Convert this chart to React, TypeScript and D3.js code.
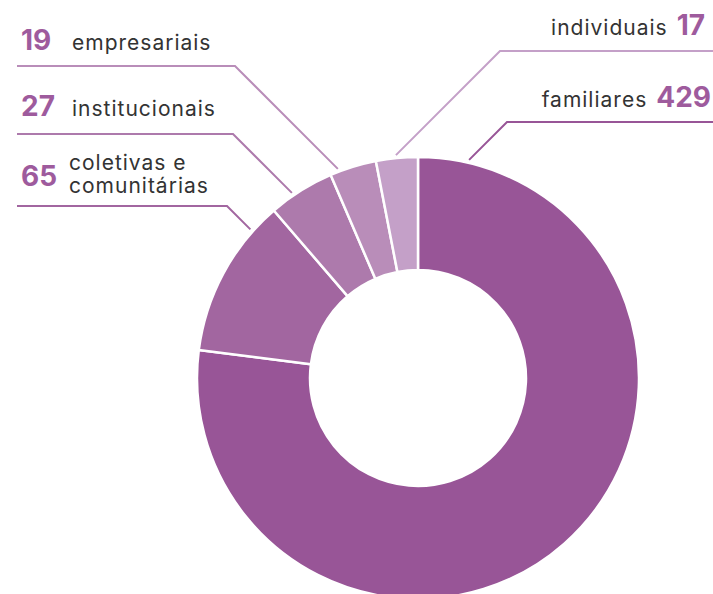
import { useMemo } from "react";
import * as d3 from "d3";

const WIDTH = 713;
const HEIGHT = 594;

const categories = ["familiares", "coletivas e comunitárias", "institucionais", "empresariais", "individuais"];
const values = [429, 65, 27, 19, 17];
const labelLines = [["familiares"], ["coletivas e", "comunitárias"], ["institucionais"], ["empresariais"], ["individuais"]];
const colors = ["#985597", "#a266a0", "#ad7aac", "#b98db9", "#c4a0c8"];

// label layout: side, text x, text baseline, horizontal rule y, elbow x
const labelLayout = [
  { side: "right", x: 711, y: 107, rule: 122, elbow: 507 },
  { side: "left", x: 21, y: 186, rule: 206, elbow: 227 },
  { side: "left", x: 21, y: 116, rule: 134, elbow: 233 },
  { side: "left", x: 21, y: 50, rule: 66, elbow: 235 },
  { side: "right", x: 705, y: 35, rule: 51, elbow: 500 },
];

const CX = 418;
const CY = 378;
const R = 221;
const R_IN = 108;
const NUM_COLOR = "#9e5b9d";
const TEXT_COLOR = "#333333";

// where a 45deg line from the elbow hits the ring (just outside)
const hitPoint = (ex: number, ey: number, dirX: number) => {
  const rr = R + 3;
  const ox = ex - CX;
  const oy = ey - CY;
  const a = 2;
  const b = 2 * (ox * dirX + oy);
  const c = ox * ox + oy * oy - rr * rr;
  const t = (-b - Math.sqrt(b * b - 4 * a * c)) / (2 * a);
  return [ex + dirX * t, ey + t];
};

export default function App() {
  const arcs = useMemo(() => {
    const pie = d3.pie<number>().sort(null).value((d) => d)(values);
    const gen = d3.arc<d3.PieArcDatum<number>>().innerRadius(R_IN).outerRadius(R);
    return pie.map((p) => gen(p) as string);
  }, []);

  return (
    <svg width={WIDTH} height={HEIGHT} style={{ position: "absolute", left: 0, top: 0, background: "#fff" }}>
      <g transform={`translate(${CX},${CY})`}>
        {arcs.map((d, i) => (
          <path key={i} d={d} fill={colors[i]} stroke="#fff" strokeWidth={2.5} strokeLinejoin="round" />
        ))}
      </g>
      {categories.map((c, i) => {
        const L = labelLayout[i];
        const left = L.side === "left";
        const [hx, hy] = hitPoint(L.elbow, L.rule, left ? 1 : -1);
        const x0 = left ? 17 : WIDTH;
        const lines = labelLines[i];
        return (
          <g key={c} fontFamily="Inter, 'DejaVu Sans', sans-serif">
            <polyline
              points={`${x0},${L.rule} ${L.elbow},${L.rule} ${hx},${hy}`}
              fill="none"
              stroke={colors[i]}
              strokeWidth={2}
            />
            {left ? (
              <>
                <text x={L.x} y={L.y} fontSize={28} fontWeight={700} fill={NUM_COLOR}>
                  {values[i]}
                </text>
                {lines.map((t, k) => (
                  <text
                    key={k}
                    x={lines.length > 1 ? 69 : 72}
                    y={lines.length > 1 ? L.y - 16 + k * 23 : L.y}
                    fontSize={21}
                    fill={TEXT_COLOR}
                    letterSpacing={1}
                  >
                    {t}
                  </text>
                ))}
              </>
            ) : (
              <text x={L.x} y={L.y} textAnchor="end" fill={TEXT_COLOR}>
                <tspan fontSize={21} letterSpacing={1}>{lines[0]}</tspan>
                <tspan dx={9} fontSize={28} fontWeight={700} fill={NUM_COLOR}>
                  {values[i]}
                </tspan>
              </text>
            )}
          </g>
        );
      })}
    </svg>
  );
}
